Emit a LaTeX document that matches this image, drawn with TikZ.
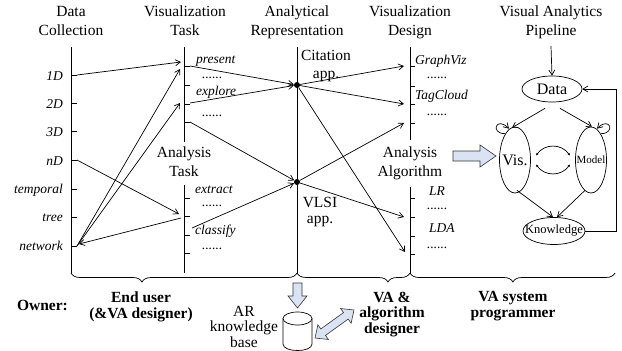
\documentclass[tikz,border=0pt]{standalone}
\usepackage{fontspec}
\setmainfont{Liberation Serif}
\usetikzlibrary{arrows.meta,decorations.pathreplacing,shapes.geometric}
\definecolor{blkfill}{HTML}{DAE3F3}
\begin{document}
\begin{tikzpicture}[x=1pt,y=-1pt,
  arr/.style={line width=0.7pt, -{Straight Barb[length=5pt,width=6pt]}},
  axis/.style={line width=0.8pt},
  head/.style={font=\fontsize{15.5}{19}\selectfont, align=center, anchor=north, inner sep=0pt},
  lab/.style={font=\fontsize{13.5}{16}\selectfont\itshape, inner sep=0pt},
  own/.style={font=\fontsize{15.5}{16}\selectfont\bfseries, align=center, anchor=north, inner sep=0pt},
  dotn/.style={circle, fill, inner sep=0pt, minimum size=6pt},
  ell/.style={draw, ellipse, inner sep=0pt, line width=0.7pt},
  blk/.style={draw=black!80, fill=blkfill, line width=0.6pt, line join=miter},
  dbl/.style={line width=0.7pt, {Latex[length=2.5pt,width=2.5pt]}-{Latex[length=2.5pt,width=2.5pt]}},
  brc/.style={decorate, decoration={brace, mirror, amplitude=9pt, aspect=#1}, line width=0.7pt}]
\useasboundingbox (0,0) rectangle (622,351);

% headers
\node[head] (hdc) at (71,6) {Data\\Collection};
\node[head] (hvt) at (185,6) {Visualization\\Task};
\node[head] (har) at (297,6) {Analytical\\Representation};
\node[head] (hvd) at (410,6) {Visualization\\Design};
\node[head] (hvp) at (551,6) {Visual Analytics\\Pipeline};
\node[head] (hat) at (184,147) {Analysis\\Task};
\node[head] (haa) at (410,147) {Analysis\\Algorithm};
\node[head, font=\fontsize{15.5}{18.5}\selectfont] (cit) at (326,50) {Citation\\app.};
\node[head, font=\fontsize{15.5}{16}\selectfont] (vlsi) at (320,197) {VLSI\\app.};

% data collection axis
\draw[axis] (71,47) -- (71,273);
\foreach \y in {75,103,131,160,189,217,246} \draw[axis] (71,\y) -- (77,\y);
\node[lab, anchor=base east] (l1) at (63,80) {1D};
\node[lab, anchor=base east] (l2) at (63,108) {2D};
\node[lab, anchor=base east] (l3) at (63,136) {3D};
\node[lab, anchor=base east] (l4) at (63,165) {nD};
\node[lab, anchor=base east] (l5) at (63,193) {temporal};
\node[lab, anchor=base east] (l6) at (63,221) {tree};
\node[lab, anchor=base east] (l7) at (63,250) {network};
\coordinate (d1) at (77,75);
\coordinate (d4) at (77,160);
\coordinate (d7) at (77,246);
\coordinate (net) at (79,244);

% visualization task / analysis task axis
\draw[axis] (184,47) -- (184,142);
\foreach \y in {66,85,104,122} \draw[axis] (184,\y) -- (190,\y);
\draw[axis] (184,185) -- (184,273);
\foreach \y in {198,216,235,253} \draw[axis] (184,\y) -- (190,\y);
\node[lab, anchor=base west] (t1) at (196,63) {present};
\node[lab, anchor=base west] (t2) at (202,78) {......};
\node[lab, anchor=base west] (t3) at (196,95) {explore};
\node[lab, anchor=base west] (t4) at (202,116) {......};
\node[lab, anchor=base west] (t5) at (195,193) {extract};
\node[lab, anchor=base west] (t6) at (202,206) {......};
\node[lab, anchor=base west] (t7) at (195,234) {classify};
\node[lab, anchor=base west] (t8) at (202,249) {......};
\coordinate (vt1) at (190,66);
\coordinate (vt3) at (190,103);
\coordinate (vt4) at (190,122);
\coordinate (ats) at (192,228);
\coordinate (ve1) at (181,62);
\coordinate (ve2) at (180,69);
\coordinate (ve3) at (180,103);
\coordinate (ae1) at (179,214);
\coordinate (as2) at (181,218);

% analytical representation axis
\draw[axis] (297,47) -- (297,273);
\node[dotn] (c1) at (297,85) {};
\node[dotn] (c2) at (297,182) {};

% visualization design / analysis algorithm axis
\draw[axis] (410,47) -- (410,140);
\foreach \y in {66,86,104,123} \draw[axis] (410,\y) -- (415,\y);
\draw[axis] (410,187) -- (410,273);
\foreach \y in {198,217,236,254} \draw[axis] (410,\y) -- (415,\y);
\node[lab, anchor=base west] (g1) at (415,64) {GraphViz};
\node[lab, anchor=base west] (g2) at (427,78) {......};
\node[lab, anchor=base west] (g3) at (415,99) {TagCloud};
\node[lab, anchor=base west] (g4) at (427,115) {......};
\node[lab, anchor=base west] (g5) at (429,195) {LR};
\node[lab, anchor=base west] (g6) at (427,209) {......};
\node[lab, anchor=base west] (g7) at (429,232) {LDA};
\node[lab, anchor=base west] (g8) at (427,248) {......};
\coordinate (vd1) at (404,66);
\coordinate (vd3) at (404,104);
\coordinate (vd4) at (404,123);
\coordinate (aa2) at (404,217);
\coordinate (aa4) at (405,252);

% connectors
\draw[arr] (d1) -- (ve1);
\draw[arr] (d7) -- (ve2);
\draw[arr] (d7) -- (ve3);
\draw[arr] (d4) -- (ae1);
\draw[arr] (as2) -- (net);
\draw[arr] (vt1) -- (c1);
\draw[arr] (vt3) -- (c1);
\draw[arr] (vt4) -- (c2);
\draw[arr] (ats) -- (c2);
\draw[arr] (c1) -- (vd1);
\draw[arr] (c1) -- (vd3);
\draw[arr] (c1) -- (aa4);
\draw[arr] (c2) -- (vd4);
\draw[arr] (c2) -- (aa2);

% pipeline
\node[ell, minimum width=60pt, minimum height=26pt] (dat) at (552,89) {};
\node[font=\fontsize{16}{16}\selectfont, inner sep=0pt] (datt) at (552,89) {Data};
\node[ell, minimum width=31pt, minimum height=66pt] (vis) at (515,160) {};
\node[font=\fontsize{16}{16}\selectfont, inner sep=0pt] (vist) at (515,160) {Vis.};
\node[ell, minimum width=31pt, minimum height=66pt] (mod) at (591,160) {};
\node[font=\fontsize{11}{11}\selectfont, inner sep=0pt] (modt) at (591,160) {Model};
\node[ell, minimum width=62pt, minimum height=27pt] (kn) at (554,231) {};
\node[font=\fontsize{12.5}{12.5}\selectfont, inner sep=0pt] (knt) at (554,231) {Knowledge};
\coordinate (pin) at (551,46);
\draw[arr] (pin) -- (dat.north);
\draw[arr] ([shift={(-7,6)}]dat.south) -- ([shift={(-3,1)}]vis.north);
\draw[arr] ([shift={(8,6)}]dat.south) -- ([shift={(1,0)}]mod.north);
\draw[arr] ([shift={(2,-3)}]vis.south) -- ([shift={(-1,0)}]kn.north);
\draw[arr] ([shift={(-6,-3)}]mod.south) -- ([shift={(3,0)}]kn.north);
\draw[arr] (kn.east) -- ++(31,0) |- (dat.east);
\draw[arr] ([shift={(-10,7)}]vis.north) .. controls +(-15,0) and +(-13,-13) .. ([shift={(-6,2)}]vis.north);
\draw[arr] ([shift={(10,7)}]mod.north) .. controls +(15,0) and +(13,-13) .. ([shift={(6,2)}]mod.north);
\draw[dbl] ([shift={(21,-4.5)}]vis.center) .. controls +(9,-12) and +(-9,-12) .. ([shift={(-21,-4.5)}]mod.center);
\draw[dbl] ([shift={(-21,4.5)}]mod.center) .. controls +(-9,12) and +(9,12) .. ([shift={(21,4.5)}]vis.center);

% block arrows
\draw[blk] (453,151) -- (480,151) -- (480,145) -- (496,156) -- (480,167) -- (480,161) -- (453,161) -- cycle;
\draw[blk] (293,283) -- (302,283) -- (302,296) -- (307,296) -- (297.5,308) -- (288,296) -- (293,296) -- cycle;
\begin{scope}[shift={(334.5,324)}, rotate=35.7]
\draw[blk] (-24,0) -- (-14,-9) -- (-14,-4) -- (14,-4) -- (14,-9) -- (24,0) -- (14,9) -- (14,4) -- (-14,4) -- (-14,9) -- cycle;
\end{scope}

% database
\draw[fill=white, line width=0.7pt] (283,318.5) -- (283,344) .. controls (283,352.7) and (312,352.7) .. (312,344) -- (312,318.5);
\draw[line width=0.7pt] (297.5,318.5) ellipse [x radius=14.5, y radius=6.5];

% braces
\coordinate (b0) at (71,273);
\coordinate (b1) at (297,273);
\coordinate (b2) at (410,273);
\coordinate (b3) at (615,273);
\draw[brc=0.314] (b0) -- (b1);
\draw[brc=0.805] (b1) -- (b2);
\draw[brc=0.502] (b2) -- (b3);

% owners
\node[own, anchor=base] (own) at (42.5,310) {Owner:};
\node[own] (eu) at (141,291.5) {End user\\(\&VA designer)};
\node[own, font=\fontsize{15.5}{15.5}\selectfont\bfseries] (vaa) at (392,291.5) {VA \&\\algorithm\\designer};
\node[own] (vas) at (513,291.5) {VA system\\programmer};
\node[head, font=\fontsize{15.5}{15.5}\selectfont] (arkb) at (244,306) {AR\\knowledge\\base};
\end{tikzpicture}
\end{document}
